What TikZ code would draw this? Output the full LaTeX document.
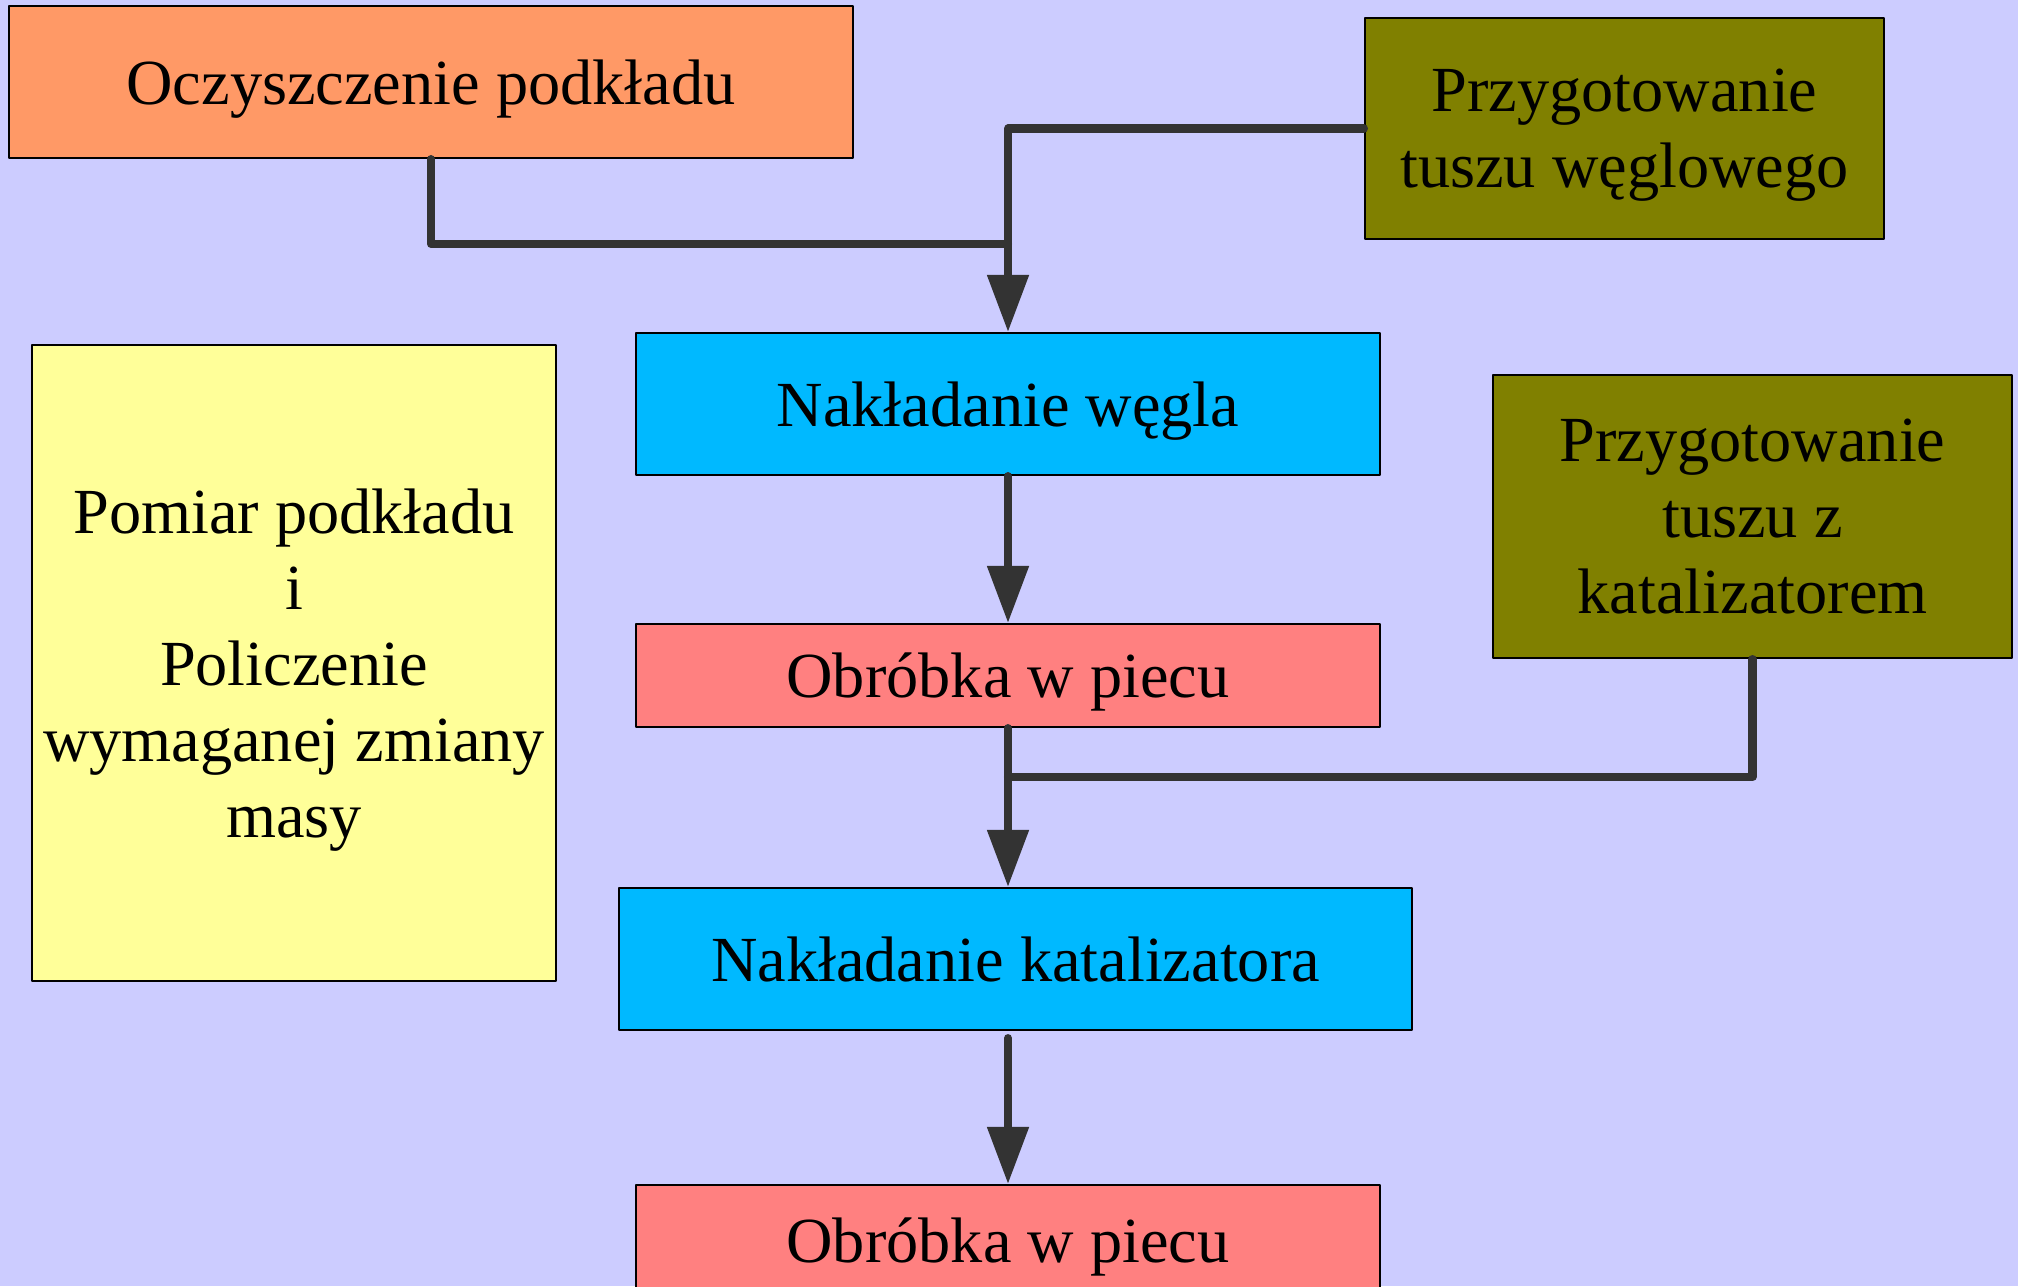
\documentclass[tikz,border=0pt]{standalone}
\usepackage{fontspec}
\setmainfont{Liberation Serif}
\usepackage{xcolor}
\usetikzlibrary{arrows.meta,calc,positioning}
\definecolor{tlo}{HTML}{CCCCFF}
\definecolor{pomar}{HTML}{FF9966}
\definecolor{oliwka}{HTML}{808000}
\definecolor{niebo}{HTML}{00B9FF}
\definecolor{zolty}{HTML}{FFFF99}
\definecolor{roz}{HTML}{FF8080}
\definecolor{linia}{HTML}{333333}
\begin{document}
\begin{tikzpicture}[line cap=round,line join=round,x=1.0cm,y=1.0cm,
  blok/.style={draw=black,line width=0.6pt,align=center,inner sep=0pt,text depth=0pt,
    font=\fontsize{18.3}{21.6}\selectfont},
  polacz/.style={draw=linia,line width=2.3pt},
  strzalka/.style={polacz,-{Triangle[length=5.7mm,width=4mm]}}]
\fill[tlo] (0,0) rectangle (20.18,-12.86);
\useasboundingbox (0,0) rectangle (20.18,-12.86);
\node[blok,fill=pomar,minimum width=8.44cm,minimum height=1.52cm] (oczysz) at (4.31,-0.82) {Oczyszczenie podkładu};
\node[blok,fill=oliwka,minimum width=5.19cm,minimum height=2.21cm] (tuszW) at (16.245,-1.285) {Przygotowanie\\tuszu węglowego};
\node[blok,fill=niebo,minimum width=7.44cm,minimum height=1.42cm] (nakW) at (10.08,-4.04) {Nakładanie węgla};
\node[blok,fill=zolty,minimum width=5.24cm,minimum height=6.36cm] (pomiar) at (2.94,-6.63) {Pomiar podkładu\\i\\Policzenie\\wymaganej zmiany\\masy};
\node[blok,fill=oliwka,minimum width=5.19cm,minimum height=2.83cm] (tuszK) at (17.525,-5.165) {Przygotowanie\\tuszu z\\katalizatorem};
\node[blok,fill=roz,minimum width=7.44cm,minimum height=1.03cm] (piec1) at (10.08,-6.755) {Obróbka w piecu};
\node[blok,fill=niebo,minimum width=7.93cm,minimum height=1.42cm] (nakK) at (10.155,-9.59) {Nakładanie katalizatora};
\node[blok,fill=roz,minimum width=7.44cm,minimum height=1.10cm] (piec2) at (10.08,-12.40) {Obróbka w piecu};
% polaczenia
\coordinate (j1) at ($(nakW.north)+(0,0.88)$);
\coordinate (j2) at ($(piec1.south)+(0,-0.49)$);
\draw[polacz] (oczysz.south) |- (j1);
\draw[strzalka] (tuszW.west) -| (nakW.north);
\draw[strzalka] (nakW.south) -- (piec1.north);
\draw[polacz] (tuszK.south) |- (j2);
\draw[strzalka] (piec1.south) -- (piec1.south |- nakK.north);
\draw[strzalka,shorten <=0.07cm] (piec2.north |- nakK.south) -- (piec2.north);
\end{tikzpicture}
\end{document}
